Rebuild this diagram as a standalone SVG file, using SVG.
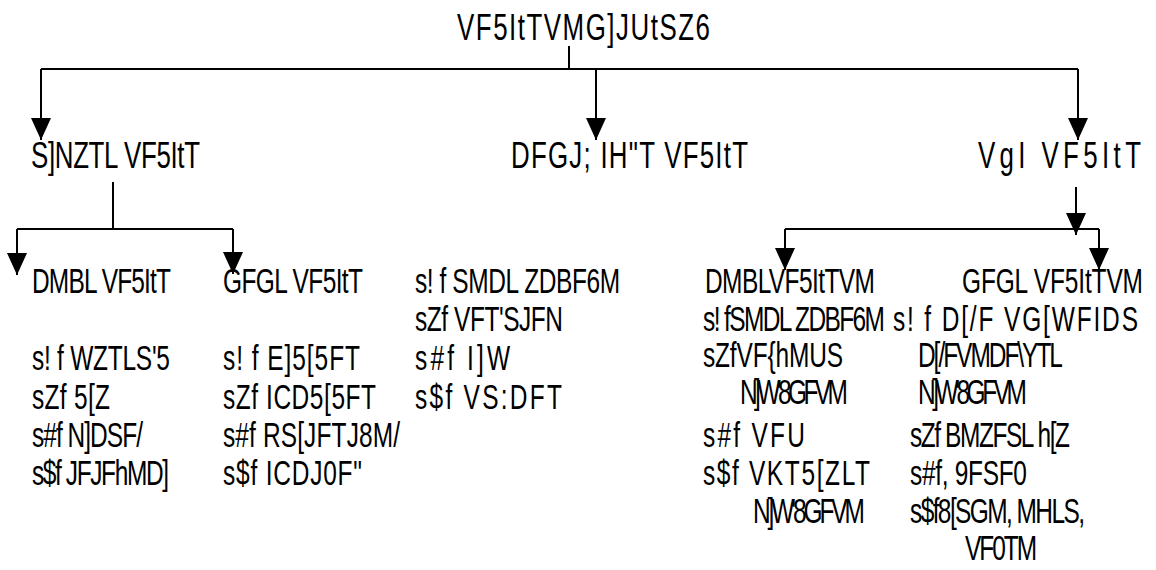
<svg xmlns="http://www.w3.org/2000/svg" width="1156" height="570" viewBox="0 0 1156 570">
<style>
text{font-family:"Liberation Sans",Arial,sans-serif;font-size:35px;fill:#000}
text.big{font-size:37px}
.c path{fill:none;stroke:#000;stroke-width:2}
</style>
<defs>
<marker id="ah" markerUnits="userSpaceOnUse" markerWidth="22" markerHeight="22" viewBox="0 0 22 22" refX="22" refY="10" orient="auto"><path d="M0,0 L22,10 L0,20 z" fill="#000"/></marker>
</defs>
<rect width="1156" height="570" fill="#fff"/>
<g class="c" id="connectors">
<path d="M569,46 V69"/>
<path d="M41,69 H1078"/>
<path d="M41,69 V140" marker-end="url(#ah)"/>
<path d="M596,69 V140" marker-end="url(#ah)"/>
<path d="M1078,69 V140" marker-end="url(#ah)"/>
<path d="M113,182 V229"/>
<path d="M17,229 H233"/>
<path d="M17,229 V275" marker-end="url(#ah)"/>
<path d="M233,229 V274" marker-end="url(#ah)"/>
<path d="M1076,187 V235" marker-end="url(#ah)"/>
<path d="M785,229 H1099"/>
<path d="M785,229 V270" marker-end="url(#ah)"/>
<path d="M1099,229 V270" marker-end="url(#ah)"/>
</g>
<g id="root" transform="scale(0.7 1)"><text class="big" x="652.9" y="40" textLength="361.4">VF5ItTVMG]JUtSZ6</text></g>
<g id="n-left" transform="scale(0.7 1)"><text class="big" x="44.3" y="168" textLength="241.4">S]NZTL VF5ItT</text></g>
<g id="n-mid" transform="scale(0.7 1)"><text class="big" x="730" y="168" textLength="338.6">DFGJ; IH"T VF5ItT</text></g>
<g id="n-right" transform="scale(0.7 1)"><text class="big" x="1397.1" y="168" textLength="232.9">VgI VF5ItT</text></g>
<g id="n-ll" transform="scale(0.7 1)">
<text x="45.7" y="293" textLength="198.6">DMBL VF5ItT</text>
<text x="45.7" y="370" textLength="197.1">s! f WZTLS'5</text>
<text x="45.7" y="409" textLength="111.4">sZf 5[Z</text>
<text x="45.7" y="447" textLength="158.6">s#f N]DSF/</text>
<text x="45.7" y="485" textLength="195.7">s$f JFJFhMD]</text>
</g>
<g id="n-lr" transform="scale(0.7 1)">
<text x="318.6" y="293" textLength="200">GFGL VF5ItT</text>
<text x="318.6" y="370" textLength="195.7">s! f E]5[5FT</text>
<text x="318.6" y="409" textLength="218.6">sZf ICD5[5FT</text>
<text x="318.6" y="447" textLength="252.9">s#f RS[JFTJ8M/</text>
<text x="318.6" y="485" textLength="198.6">s$f ICDJ0F"</text>
</g>
<g id="n-mm" transform="scale(0.7 1)">
<text x="592.9" y="293" textLength="292.9">s! f SMDL ZDBF6M</text>
<text x="592.9" y="331" textLength="211.4">sZf VFT'SJFN</text>
<text x="592.9" y="370" textLength="135.7">s#f I]W</text>
<text x="592.9" y="409" textLength="210">s$f VS:DFT</text>
</g>
<g id="n-rl" transform="scale(0.7 1)">
<text x="1007.1" y="293" textLength="242.9">DMBLVF5ItTVM</text>
<text x="1004.3" y="331" textLength="260">s! fSMDL ZDBF6M</text>
<text x="1004.3" y="367" textLength="200">sZfVF{hMUS</text>
<text x="1057.1" y="404" textLength="154.3">N]W'8GFVM</text>
<text x="1004.3" y="447" textLength="145.7">s#f VFU</text>
<text x="1004.3" y="485" textLength="238.6">s$f VKT5[ZLT</text>
<text x="1075.7" y="523" textLength="160">N]W'8GFVM</text>
</g>
<g id="n-rr" transform="scale(0.7 1)">
<text x="1374.3" y="293" textLength="258.6">GFGL VF5ItTVM</text>
<text x="1275.7" y="331" textLength="350">s! f D[/F VG[WFIDS</text>
<text x="1311.4" y="367" textLength="207.1">D[/FVMDF\YTL</text>
<text x="1311.4" y="404" textLength="155.7">N]W'8GFVM</text>
<text x="1300" y="447" textLength="228.6">sZf BMZFSL h[Z</text>
<text x="1300" y="485" textLength="167.1">s#f, 9FSF0</text>
<text x="1300" y="523" textLength="250">s$f8[SGM, MHLS,</text>
<text x="1378.6" y="560" textLength="102.9">VF0TM</text>
</g>
</svg>
